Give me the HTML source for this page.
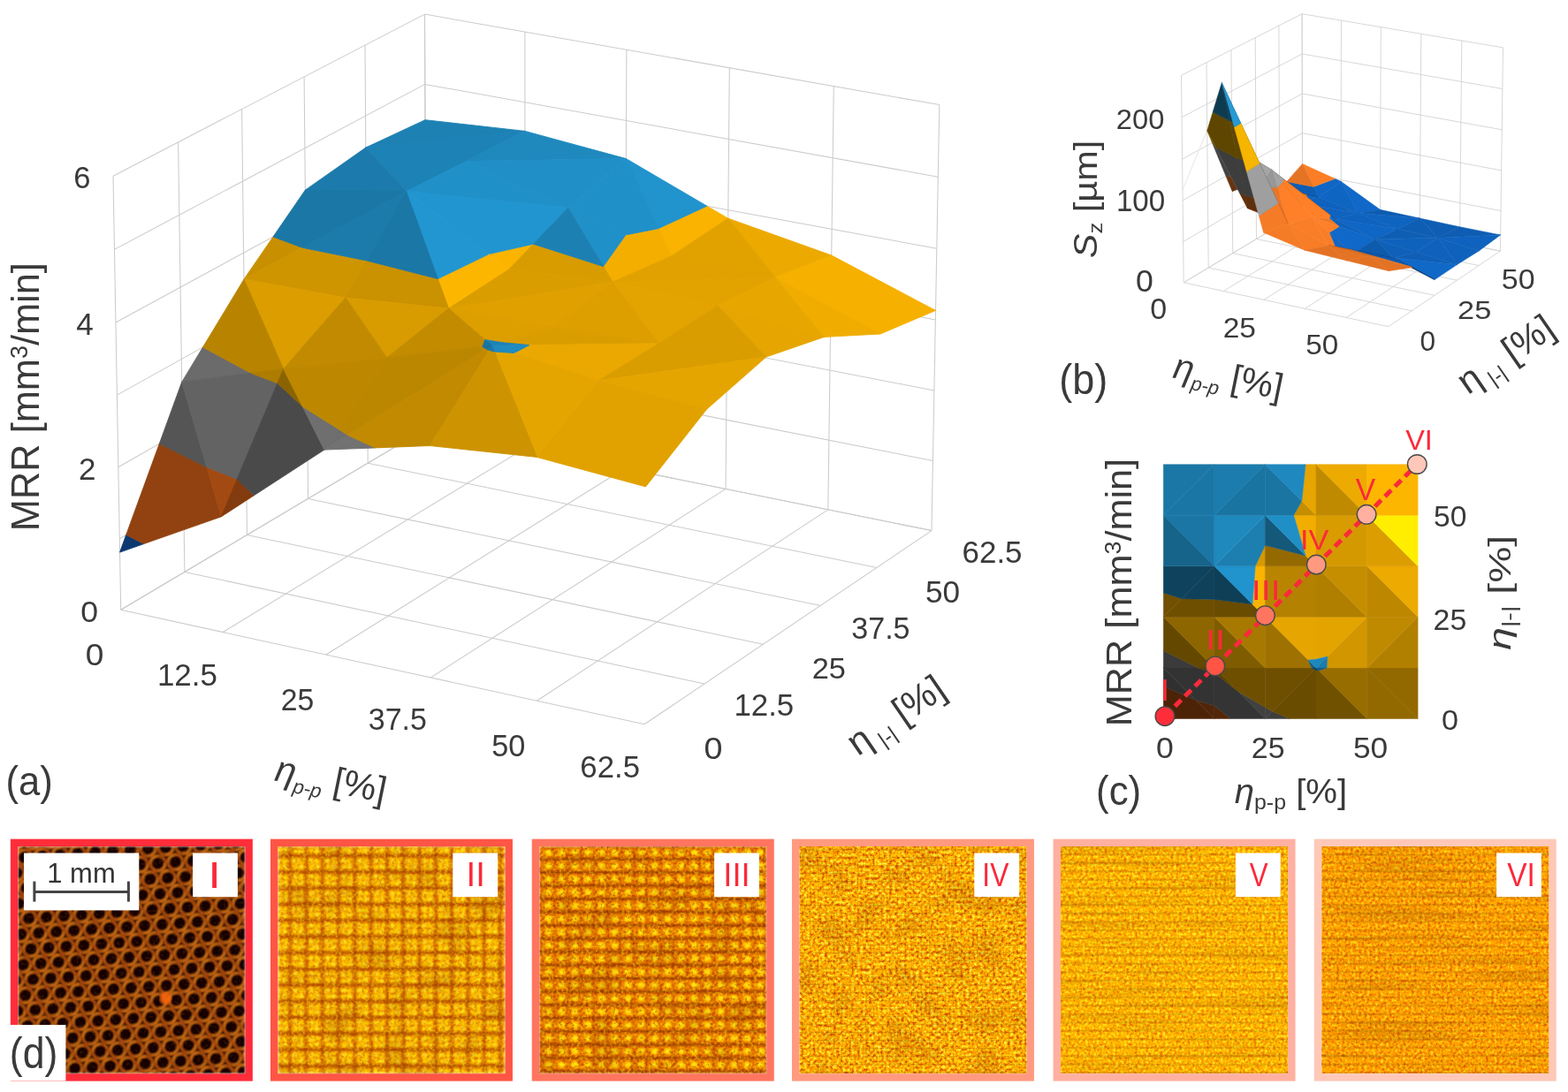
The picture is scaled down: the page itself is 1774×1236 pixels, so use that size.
<!DOCTYPE html><html><head><meta charset="utf-8"><title>Figure</title><style>html,body{margin:0;padding:0;background:#fff;}svg{display:block;}</style></head><body><svg xmlns="http://www.w3.org/2000/svg" width="1774" height="1236" viewBox="0 0 1774 1236"><defs><pattern id="pI" width="20" height="34.64" patternUnits="userSpaceOnUse" patternTransform="rotate(-4)">
<rect width="20" height="34.64" fill="#1c0602"/>
<g fill="#140300" stroke="#cc5a0e" stroke-width="2.3"><circle cx="0" cy="0" r="8.6"/><circle cx="20" cy="0" r="8.6"/><circle cx="10" cy="17.32" r="8.6"/><circle cx="0" cy="34.64" r="8.6"/><circle cx="20" cy="34.64" r="8.6"/></g>
<g fill="none" stroke="#f68a20" stroke-width="1.5" stroke-linecap="round"><path d="M-8.2 -1 A8.2 8.2 0 0 1 1 -8.2"/><path d="M8.2 1 A8.2 8.2 0 0 1 -1 8.2"/><path d="M11.8 -1 A8.2 8.2 0 0 1 21 -8.2"/><path d="M28.2 1 A8.2 8.2 0 0 1 19 8.2"/><path d="M1.8000000000000007 16.32 A8.2 8.2 0 0 1 11 9.120000000000001"/><path d="M18.2 18.32 A8.2 8.2 0 0 1 9 25.52"/><path d="M-8.2 33.64 A8.2 8.2 0 0 1 1 26.44"/><path d="M8.2 35.64 A8.2 8.2 0 0 1 -1 42.84"/><path d="M11.8 33.64 A8.2 8.2 0 0 1 21 26.44"/><path d="M28.2 35.64 A8.2 8.2 0 0 1 19 42.84"/></g>
</pattern><filter id="blur1" x="0" y="0" width="1" height="1"><feGaussianBlur stdDeviation="1.0"/></filter><filter id="blur15" x="0" y="0" width="1" height="1"><feGaussianBlur stdDeviation="1.4"/></filter><pattern id="pII" width="18.3" height="18.3" patternUnits="userSpaceOnUse">
<rect width="18.3" height="18.3" fill="#f08400"/>
<rect y="15.4" width="18.3" height="3.8" fill="#8a3000" opacity="0.75"/>
<rect x="15.7" width="2.7" height="18.3" fill="#903400" opacity="0.55"/>
<g fill="#ffdc00"><ellipse cx="4.5" cy="4.5" rx="3" ry="2.8"/><ellipse cx="11.5" cy="4.8" rx="2.8" ry="2.6"/><ellipse cx="4.8" cy="11.3" rx="2.8" ry="2.6"/><ellipse cx="11.3" cy="11.3" rx="3" ry="2.8"/></g>
<g fill="#fff640"><circle cx="4.5" cy="4.5" r="1.4"/><circle cx="11.3" cy="11.3" r="1.4"/></g>
</pattern><pattern id="pIII" width="15" height="15" patternUnits="userSpaceOnUse">
<rect width="15" height="15" fill="#ee7a00"/>
<rect y="10.8" width="15" height="3.2" fill="#7a2c00" opacity="0.7"/>
<rect x="11" width="2" height="15" fill="#9a4400" opacity="0.3"/>
<ellipse cx="5.5" cy="5" rx="3.9" ry="3.5" fill="#ffd400"/><ellipse cx="5.5" cy="5" rx="2" ry="1.8" fill="#fff020"/>
</pattern><pattern id="pIV" width="9" height="9" patternUnits="userSpaceOnUse">
<rect y="7" width="9" height="1.5" fill="#7a3c00" opacity="0.18"/><rect x="7" width="1.3" height="9" fill="#7a3c00" opacity="0.12"/>
</pattern><pattern id="pV" width="40" height="9.5" patternUnits="userSpaceOnUse">
<rect y="6.8" width="40" height="2.2" fill="#8a4000" opacity="0.22"/>
</pattern><filter id="nI" x="0" y="0" width="1" height="1" color-interpolation-filters="sRGB"><feTurbulence type="fractalNoise" baseFrequency="0.3" numOctaves="2" seed="3"/><feColorMatrix type="matrix" values="1 0 0 0 0 1 0 0 0 0 1 0 0 0 0 1 0 0 0 0"/><feComponentTransfer><feFuncR type="linear" slope="2.6" intercept="-0.8"/><feFuncG type="linear" slope="2.6" intercept="-0.8"/><feFuncB type="linear" slope="2.6" intercept="-0.8"/><feFuncA type="linear" slope="2.6" intercept="-0.8"/></feComponentTransfer><feComponentTransfer><feFuncR type="table" tableValues="0.1 0.5 0.95 1"/><feFuncG type="table" tableValues="0.02 0.15 0.5 0.75"/><feFuncB type="table" tableValues="0 0 0.05 0.2"/><feFuncA type="table" tableValues="0 0 0.15 0.7"/></feComponentTransfer></filter><filter id="nII" x="0" y="0" width="1" height="1" color-interpolation-filters="sRGB"><feTurbulence type="fractalNoise" baseFrequency="0.3" numOctaves="2" seed="5"/><feColorMatrix type="matrix" values="1 0 0 0 0 1 0 0 0 0 1 0 0 0 0 1 0 0 0 0"/><feComponentTransfer><feFuncR type="linear" slope="2.6" intercept="-0.8"/><feFuncG type="linear" slope="2.6" intercept="-0.8"/><feFuncB type="linear" slope="2.6" intercept="-0.8"/><feFuncA type="linear" slope="2.6" intercept="-0.8"/></feComponentTransfer><feComponentTransfer><feFuncR type="table" tableValues="0.66 0.94 1 1"/><feFuncG type="table" tableValues="0.16 0.45 0.85 0.98"/><feFuncB type="table" tableValues="0 0 0 0.1"/><feFuncA type="table" tableValues="0.6 0.15 0.3 0.8"/></feComponentTransfer></filter><filter id="nIII" x="0" y="0" width="1" height="1" color-interpolation-filters="sRGB"><feTurbulence type="fractalNoise" baseFrequency="0.3" numOctaves="2" seed="8"/><feColorMatrix type="matrix" values="1 0 0 0 0 1 0 0 0 0 1 0 0 0 0 1 0 0 0 0"/><feComponentTransfer><feFuncR type="linear" slope="2.6" intercept="-0.8"/><feFuncG type="linear" slope="2.6" intercept="-0.8"/><feFuncB type="linear" slope="2.6" intercept="-0.8"/><feFuncA type="linear" slope="2.6" intercept="-0.8"/></feComponentTransfer><feComponentTransfer><feFuncR type="table" tableValues="0.56 0.92 1 1"/><feFuncG type="table" tableValues="0.1 0.4 0.8 0.95"/><feFuncB type="table" tableValues="0 0 0 0.08"/><feFuncA type="table" tableValues="0.75 0.15 0.3 0.8"/></feComponentTransfer></filter><filter id="nIV" x="0" y="0" width="1" height="1" color-interpolation-filters="sRGB"><feTurbulence type="fractalNoise" baseFrequency="0.3" numOctaves="3" seed="11"/><feColorMatrix type="matrix" values="1 0 0 0 0 1 0 0 0 0 1 0 0 0 0 0 0 0 0 1"/><feComponentTransfer><feFuncR type="linear" slope="2.0" intercept="-0.5"/><feFuncG type="linear" slope="2.0" intercept="-0.5"/><feFuncB type="linear" slope="2.0" intercept="-0.5"/></feComponentTransfer><feComponentTransfer><feFuncR type="table" tableValues="0.8 0.96 1 1 1 1"/><feFuncG type="table" tableValues="0.33 0.52 0.64 0.75 0.85 0.95"/><feFuncB type="table" tableValues="0 0 0 0.02 0.06 0.3"/></feComponentTransfer></filter><filter id="nV" x="0" y="0" width="1" height="1" color-interpolation-filters="sRGB"><feTurbulence type="fractalNoise" baseFrequency="0.32" numOctaves="3" seed="13"/><feColorMatrix type="matrix" values="1 0 0 0 0 1 0 0 0 0 1 0 0 0 0 0 0 0 0 1"/><feComponentTransfer><feFuncR type="linear" slope="1.8" intercept="-0.4"/><feFuncG type="linear" slope="1.8" intercept="-0.4"/><feFuncB type="linear" slope="1.8" intercept="-0.4"/></feComponentTransfer><feComponentTransfer><feFuncR type="table" tableValues="0.88 0.98 1 1 1 1"/><feFuncG type="table" tableValues="0.44 0.58 0.67 0.76 0.85 0.93"/><feFuncB type="table" tableValues="0 0 0 0.01 0.04 0.2"/></feComponentTransfer></filter><filter id="nVI" x="0" y="0" width="1" height="1" color-interpolation-filters="sRGB"><feTurbulence type="fractalNoise" baseFrequency="0.32" numOctaves="3" seed="17"/><feColorMatrix type="matrix" values="1 0 0 0 0 1 0 0 0 0 1 0 0 0 0 0 0 0 0 1"/><feComponentTransfer><feFuncR type="linear" slope="1.8" intercept="-0.4"/><feFuncG type="linear" slope="1.8" intercept="-0.4"/><feFuncB type="linear" slope="1.8" intercept="-0.4"/></feComponentTransfer><feComponentTransfer><feFuncR type="table" tableValues="0.86 0.96 1 1 1 1"/><feFuncG type="table" tableValues="0.38 0.5 0.6 0.68 0.77 0.87"/><feFuncB type="table" tableValues="0 0 0 0.01 0.03 0.15"/></feComponentTransfer></filter><filter id="sStr" x="0" y="0" width="1" height="1" color-interpolation-filters="sRGB"><feTurbulence type="fractalNoise" baseFrequency="0.006 0.12" numOctaves="2" seed="41"/><feColorMatrix type="matrix" values="1 0 0 0 0 1 0 0 0 0 1 0 0 0 0 1 0 0 0 0"/><feComponentTransfer><feFuncR type="linear" slope="2.6" intercept="-0.8"/><feFuncG type="linear" slope="2.6" intercept="-0.8"/><feFuncB type="linear" slope="2.6" intercept="-0.8"/><feFuncA type="linear" slope="2.6" intercept="-0.8"/></feComponentTransfer><feComponentTransfer><feFuncR type="table" tableValues="0.5 0.5"/><feFuncG type="table" tableValues="0.25 0.25"/><feFuncB type="table" tableValues="0 0"/><feFuncA type="table" tableValues="0.8 0.3 0 0 0"/></feComponentTransfer></filter><filter id="sLow" x="0" y="0" width="1" height="1" color-interpolation-filters="sRGB"><feTurbulence type="fractalNoise" baseFrequency="0.03" numOctaves="2" seed="51"/><feColorMatrix type="matrix" values="1 0 0 0 0 1 0 0 0 0 1 0 0 0 0 1 0 0 0 0"/><feComponentTransfer><feFuncR type="linear" slope="2.6" intercept="-0.8"/><feFuncG type="linear" slope="2.6" intercept="-0.8"/><feFuncB type="linear" slope="2.6" intercept="-0.8"/><feFuncA type="linear" slope="2.6" intercept="-0.8"/></feComponentTransfer><feComponentTransfer><feFuncR type="table" tableValues="0.45 0.45"/><feFuncG type="table" tableValues="0.12 0.12"/><feFuncB type="table" tableValues="0 0"/><feFuncA type="table" tableValues="0.6 0.2 0 0"/></feComponentTransfer></filter></defs><g stroke="#cbcbcb" stroke-width="1.05" fill="none"><line x1="136.7" y1="690.3" x2="128.0" y2="199.2"/><line x1="208.9" y1="647.4" x2="201.6" y2="161.0"/><line x1="279.5" y1="605.5" x2="273.6" y2="123.6"/><line x1="348.6" y1="564.4" x2="344.1" y2="87.0"/><line x1="416.2" y1="524.2" x2="413.0" y2="51.2"/><line x1="482.4" y1="484.8" x2="480.5" y2="16.1"/><line x1="136.7" y1="690.3" x2="482.4" y2="484.8"/><line x1="135.3" y1="609.7" x2="482.1" y2="407.9"/><line x1="133.8" y1="528.7" x2="481.8" y2="330.5"/><line x1="132.4" y1="447.1" x2="481.5" y2="252.6"/><line x1="130.9" y1="365.0" x2="481.1" y2="174.3"/><line x1="129.4" y1="282.4" x2="480.8" y2="95.4"/><line x1="128.0" y1="199.2" x2="480.5" y2="16.1"/><line x1="482.4" y1="484.8" x2="480.5" y2="16.1"/><line x1="593.9" y1="507.4" x2="593.9" y2="36.1"/><line x1="706.7" y1="530.3" x2="708.9" y2="56.3"/><line x1="821.0" y1="553.4" x2="825.3" y2="76.8"/><line x1="936.8" y1="576.9" x2="943.3" y2="97.6"/><line x1="1054.0" y1="600.6" x2="1062.8" y2="118.6"/><line x1="482.4" y1="484.8" x2="1054.0" y2="600.6"/><line x1="482.1" y1="407.9" x2="1055.4" y2="521.5"/><line x1="481.8" y1="330.5" x2="1056.9" y2="442.0"/><line x1="481.5" y1="252.6" x2="1058.4" y2="361.9"/><line x1="481.1" y1="174.3" x2="1059.8" y2="281.3"/><line x1="480.8" y1="95.4" x2="1061.3" y2="200.2"/><line x1="480.5" y1="16.1" x2="1062.8" y2="118.6"/><line x1="136.7" y1="690.3" x2="482.4" y2="484.8"/><line x1="252.0" y1="715.5" x2="593.9" y2="507.4"/><line x1="368.9" y1="741.0" x2="706.7" y2="530.3"/><line x1="487.3" y1="766.9" x2="821.0" y2="553.4"/><line x1="607.4" y1="793.2" x2="936.8" y2="576.9"/><line x1="729.1" y1="819.8" x2="1054.0" y2="600.6"/><line x1="136.7" y1="690.3" x2="729.1" y2="819.8"/><line x1="208.9" y1="647.4" x2="797.0" y2="774.0"/><line x1="279.5" y1="605.5" x2="863.4" y2="729.2"/><line x1="348.6" y1="564.4" x2="928.3" y2="685.4"/><line x1="416.2" y1="524.2" x2="991.9" y2="642.5"/><line x1="482.4" y1="484.8" x2="1054.0" y2="600.6"/></g><g stroke-linejoin="round"><polygon points="413.8,167.1 593.9,148.4 481.0,135.7" fill="#1d81b3" stroke="#1d81b3" stroke-width="0.9"/><polygon points="413.8,167.1 527.5,182.6 593.9,148.4" fill="#1d82b5" stroke="#1d82b5" stroke-width="0.9"/><polygon points="527.5,182.6 708.3,179.6 593.9,148.4" fill="#1f89be" stroke="#1f89be" stroke-width="0.9"/><polygon points="527.5,182.6 642.7,235.2 708.3,179.6" fill="#208fc8" stroke="#208fc8" stroke-width="0.9"/><polygon points="459.7,216.6 527.5,182.6 413.8,167.1" fill="#1d82b5" stroke="#1d82b5" stroke-width="0.9"/><polygon points="759.1,290.1 823.8,247.2 799.8,233.2 744.7,258.7" fill="#f9b300" stroke="#f9b300" stroke-width="0.9"/><polygon points="799.8,233.2 708.3,179.6 744.7,258.7" fill="#2193cd" stroke="#2193cd" stroke-width="0.9"/><polygon points="345.3,215.2 459.7,216.6 413.8,167.1" fill="#1c7bac" stroke="#1c7bac" stroke-width="0.9"/><polygon points="707.9,265.9 759.1,290.1 744.7,258.7" fill="#f3ae00" stroke="#f3ae00" stroke-width="0.9"/><polygon points="642.7,235.2 707.9,265.9 744.7,258.7 708.3,179.6" fill="#2090c8" stroke="#2090c8" stroke-width="0.9"/><polygon points="459.7,216.6 642.7,235.2 527.5,182.6" fill="#2090c8" stroke="#2090c8" stroke-width="0.9"/><polygon points="877.1,314.0 940.7,289.0 823.8,247.2" fill="#eca900" stroke="#eca900" stroke-width="0.9"/><polygon points="276.0,316.1 342.0,280.3 309.0,268.0" fill="#c89000" stroke="#c89000" stroke-width="0.9"/><polygon points="342.0,280.3 459.7,216.6 345.3,215.2 309.0,268.0" fill="#1b77a5" stroke="#1b77a5" stroke-width="0.9"/><polygon points="759.1,290.1 877.1,314.0 823.8,247.2" fill="#e1a200" stroke="#e1a200" stroke-width="0.9"/><polygon points="553.1,287.6 575.8,304.9 603.4,276.2" fill="#fbb400" stroke="#fbb400" stroke-width="0.9"/><polygon points="459.7,216.6 553.1,287.6 603.4,276.2 642.7,235.2" fill="#2195cf" stroke="#2195cf" stroke-width="0.9"/><polygon points="877.1,314.0 1058.5,351.4 940.7,289.0" fill="#f5b000" stroke="#f5b000" stroke-width="0.9"/><polygon points="693.1,319.2 759.1,290.1 707.9,265.9 682.6,301.6" fill="#f3ae00" stroke="#f3ae00" stroke-width="0.9"/><polygon points="707.9,265.9 642.7,235.2 682.6,301.6" fill="#2090c8" stroke="#2090c8" stroke-width="0.9"/><polygon points="276.0,316.1 391.0,336.9 414.9,295.0 342.0,280.3" fill="#cf9500" stroke="#cf9500" stroke-width="0.9"/><polygon points="414.9,295.0 459.7,216.6 342.0,280.3" fill="#1c7bab" stroke="#1c7bab" stroke-width="0.9"/><polygon points="575.8,304.9 693.1,319.2 682.6,301.6 603.4,276.2" fill="#d89b00" stroke="#d89b00" stroke-width="0.9"/><polygon points="682.6,301.6 642.7,235.2 603.4,276.2" fill="#1d80b2" stroke="#1d80b2" stroke-width="0.9"/><polygon points="693.1,319.2 877.1,314.0 759.1,290.1" fill="#e1a100" stroke="#e1a100" stroke-width="0.9"/><polygon points="877.1,314.0 996.0,378.0 1058.5,351.4" fill="#f6b000" stroke="#f6b000" stroke-width="0.9"/><polygon points="507.5,349.1 575.8,304.9 553.1,287.6 495.4,315.6" fill="#fdb600" stroke="#fdb600" stroke-width="0.9"/><polygon points="553.1,287.6 459.7,216.6 495.4,315.6" fill="#2296d1" stroke="#2296d1" stroke-width="0.9"/><polygon points="391.0,336.9 507.5,349.1 495.4,315.6 414.9,295.0" fill="#ca9100" stroke="#ca9100" stroke-width="0.9"/><polygon points="495.4,315.6 459.7,216.6 414.9,295.0" fill="#1b77a6" stroke="#1b77a6" stroke-width="0.9"/><polygon points="320.7,417.5 391.0,336.9 276.0,316.1" fill="#db9d00" stroke="#db9d00" stroke-width="0.9"/><polygon points="205.7,432.4 283.8,422.3 229.5,393.0" fill="#6b6b6b" stroke="#6b6b6b" stroke-width="0.9"/><polygon points="283.8,422.3 320.7,417.5 276.0,316.1 229.5,393.0" fill="#b88400" stroke="#b88400" stroke-width="0.9"/><polygon points="507.5,349.1 693.1,319.2 575.8,304.9" fill="#da9d00" stroke="#da9d00" stroke-width="0.9"/><polygon points="693.1,319.2 812.0,346.0 877.1,314.0" fill="#e2a300" stroke="#e2a300" stroke-width="0.9"/><polygon points="932.4,381.4 996.0,378.0 877.1,314.0" fill="#f0ad00" stroke="#f0ad00" stroke-width="0.9"/><polygon points="135.6,625.1 162.6,615.6 142.7,605.4" fill="#0b3970" stroke="#0b3970" stroke-width="0.9"/><polygon points="162.6,615.6 250.3,584.8 233.9,528.8 180.3,502.2 142.7,605.4" fill="#914210" stroke="#914210" stroke-width="0.9"/><polygon points="233.9,528.8 205.7,432.4 180.3,502.2" fill="#555555" stroke="#555555" stroke-width="0.9"/><polygon points="812.0,346.0 932.4,381.4 877.1,314.0" fill="#e8a600" stroke="#e8a600" stroke-width="0.9"/><polygon points="507.5,349.1 625.6,370.4 693.1,319.2" fill="#dfa000" stroke="#dfa000" stroke-width="0.9"/><polygon points="437.7,404.9 507.5,349.1 391.0,336.9" fill="#d89b00" stroke="#d89b00" stroke-width="0.9"/><polygon points="250.3,584.8 268.2,542.3 233.9,528.8" fill="#a34a12" stroke="#a34a12" stroke-width="0.9"/><polygon points="268.2,542.3 313.9,433.7 283.8,422.3 205.7,432.4 233.9,528.8" fill="#636363" stroke="#636363" stroke-width="0.9"/><polygon points="313.9,433.7 320.7,417.5 283.8,422.3" fill="#ad7c00" stroke="#ad7c00" stroke-width="0.9"/><polygon points="320.7,417.5 437.7,404.9 391.0,336.9" fill="#c18a00" stroke="#c18a00" stroke-width="0.9"/><polygon points="745.4,388.7 812.0,346.0 693.1,319.2" fill="#e3a300" stroke="#e3a300" stroke-width="0.9"/><polygon points="625.6,370.4 745.4,388.7 693.1,319.2" fill="#dd9e00" stroke="#dd9e00" stroke-width="0.9"/><polygon points="568.2,387.7 625.6,370.4 507.5,349.1 548.9,384.6" fill="#dd9e00" stroke="#dd9e00" stroke-width="0.9"/><polygon points="556.6,391.2 568.2,387.7 548.9,384.6" fill="#1d83b6" stroke="#1d83b6" stroke-width="0.9"/><polygon points="437.7,404.9 545.9,392.4 548.9,384.6 507.5,349.1" fill="#c28b00" stroke="#c28b00" stroke-width="0.9"/><polygon points="545.9,392.4 556.6,391.2 548.9,384.6" fill="#1a73a0" stroke="#1a73a0" stroke-width="0.9"/><polygon points="250.3,584.8 287.3,560.8 268.2,542.3" fill="#823b0e" stroke="#823b0e" stroke-width="0.9"/><polygon points="287.3,560.8 366.9,509.1 342.2,460.1 313.9,433.7 268.2,542.3" fill="#4a4a4a" stroke="#4a4a4a" stroke-width="0.9"/><polygon points="342.2,460.1 320.7,417.5 313.9,433.7" fill="#8b6300" stroke="#8b6300" stroke-width="0.9"/><polygon points="866.9,404.0 932.4,381.4 812.0,346.0" fill="#e6a500" stroke="#e6a500" stroke-width="0.9"/><polygon points="366.9,509.1 382.8,485.6 342.2,460.1" fill="#6f6f6f" stroke="#6f6f6f" stroke-width="0.9"/><polygon points="382.8,485.6 437.7,404.9 320.7,417.5 342.2,460.1" fill="#bd8800" stroke="#bd8800" stroke-width="0.9"/><polygon points="745.4,388.7 866.9,404.0 812.0,346.0" fill="#da9d00" stroke="#da9d00" stroke-width="0.9"/><polygon points="598.7,390.6 745.4,388.7 625.6,370.4 568.2,387.7" fill="#da9d00" stroke="#da9d00" stroke-width="0.9"/><polygon points="556.6,391.2 598.7,390.6 568.2,387.7" fill="#1d81b4" stroke="#1d81b4" stroke-width="0.9"/><polygon points="366.9,509.1 393.5,492.5 382.8,485.6" fill="#6e6e6e" stroke="#6e6e6e" stroke-width="0.9"/><polygon points="393.5,492.5 550.3,395.1 545.9,392.4 437.7,404.9 382.8,485.6" fill="#bc8700" stroke="#bc8700" stroke-width="0.9"/><polygon points="550.3,395.1 556.6,391.2 545.9,392.4" fill="#19709b" stroke="#19709b" stroke-width="0.9"/><polygon points="581.9,399.5 677.3,430.8 745.4,388.7 598.7,390.6" fill="#eaa800" stroke="#eaa800" stroke-width="0.9"/><polygon points="556.6,391.2 581.9,399.5 598.7,390.6" fill="#1f8bc1" stroke="#1f8bc1" stroke-width="0.9"/><polygon points="677.3,430.8 866.9,404.0 745.4,388.7" fill="#da9d00" stroke="#da9d00" stroke-width="0.9"/><polygon points="366.9,509.1 424.6,506.9 393.5,492.5" fill="#727272" stroke="#727272" stroke-width="0.9"/><polygon points="424.6,506.9 486.2,504.5 553.3,396.4 550.3,395.1 393.5,492.5" fill="#c18a00" stroke="#c18a00" stroke-width="0.9"/><polygon points="553.3,396.4 556.6,391.2 550.3,395.1" fill="#1a729f" stroke="#1a729f" stroke-width="0.9"/><polygon points="677.3,430.8 799.5,463.3 866.9,404.0" fill="#e5a500" stroke="#e5a500" stroke-width="0.9"/><polygon points="607.5,517.4 677.3,430.8 581.9,399.5 559.4,398.1" fill="#e5a500" stroke="#e5a500" stroke-width="0.9"/><polygon points="581.9,399.5 556.6,391.2 559.4,398.1" fill="#1f88bd" stroke="#1f88bd" stroke-width="0.9"/><polygon points="486.2,504.5 607.5,517.4 559.4,398.1 553.3,396.4" fill="#cd9300" stroke="#cd9300" stroke-width="0.9"/><polygon points="559.4,398.1 556.6,391.2 553.3,396.4" fill="#1b79a9" stroke="#1b79a9" stroke-width="0.9"/><polygon points="730.5,550.9 799.5,463.3 677.3,430.8" fill="#e1a200" stroke="#e1a200" stroke-width="0.9"/><polygon points="607.5,517.4 730.5,550.9 677.3,430.8" fill="#e1a200" stroke="#e1a200" stroke-width="0.9"/></g><g stroke="#d2d2d2" stroke-width="0.9" fill="none"><line x1="1339.2" y1="319.8" x2="1336.5" y2="85.3"/><line x1="1367.2" y1="303.0" x2="1365.0" y2="70.8"/><line x1="1394.7" y1="286.6" x2="1392.9" y2="56.5"/><line x1="1421.5" y1="270.5" x2="1420.2" y2="42.6"/><line x1="1447.8" y1="254.8" x2="1446.9" y2="29.0"/><line x1="1473.6" y1="239.3" x2="1473.1" y2="15.7"/><line x1="1339.2" y1="319.8" x2="1473.6" y2="239.3"/><line x1="1338.7" y1="273.5" x2="1473.5" y2="195.2"/><line x1="1338.1" y1="226.9" x2="1473.4" y2="150.7"/><line x1="1337.6" y1="180.0" x2="1473.3" y2="106.0"/><line x1="1337.0" y1="132.8" x2="1473.2" y2="61.0"/><line x1="1336.5" y1="85.3" x2="1473.1" y2="15.7"/><line x1="1473.6" y1="239.3" x2="1473.1" y2="15.7"/><line x1="1517.2" y1="248.1" x2="1517.4" y2="23.1"/><line x1="1561.4" y1="256.9" x2="1562.3" y2="30.6"/><line x1="1606.2" y1="265.8" x2="1607.8" y2="38.3"/><line x1="1651.5" y1="274.9" x2="1653.8" y2="46.0"/><line x1="1697.4" y1="284.1" x2="1700.5" y2="53.9"/><line x1="1473.6" y1="239.3" x2="1697.4" y2="284.1"/><line x1="1473.5" y1="195.2" x2="1698.0" y2="238.6"/><line x1="1473.4" y1="150.7" x2="1698.6" y2="192.9"/><line x1="1473.3" y1="106.0" x2="1699.2" y2="146.8"/><line x1="1473.2" y1="61.0" x2="1699.8" y2="100.5"/><line x1="1473.1" y1="15.7" x2="1700.5" y2="53.9"/><line x1="1339.2" y1="319.8" x2="1473.6" y2="239.3"/><line x1="1384.3" y1="329.5" x2="1517.2" y2="248.1"/><line x1="1430.0" y1="339.3" x2="1561.4" y2="256.9"/><line x1="1476.4" y1="349.3" x2="1606.2" y2="265.8"/><line x1="1523.3" y1="359.4" x2="1651.5" y2="274.9"/><line x1="1570.8" y1="369.7" x2="1697.4" y2="284.1"/><line x1="1339.2" y1="319.8" x2="1570.8" y2="369.7"/><line x1="1367.2" y1="303.0" x2="1597.2" y2="351.8"/><line x1="1394.7" y1="286.6" x2="1623.1" y2="334.3"/><line x1="1421.5" y1="270.5" x2="1648.4" y2="317.2"/><line x1="1447.8" y1="254.8" x2="1673.1" y2="300.5"/><line x1="1473.6" y1="239.3" x2="1697.4" y2="284.1"/></g><g stroke-linejoin="round"><line x1="1338.0" y1="214.7" x2="1365.7" y2="147.8" stroke="#e6e6e6" stroke-width="1"/><polygon points="1491.7,223.3 1517.3,205.4 1510.5,202.3 1486.0,211.4" fill="#1066c5" stroke="#1066c5" stroke-width="0.5"/><polygon points="1510.5,202.3 1473.5,185.4 1486.0,211.4" fill="#fb7e27" stroke="#fb7e27" stroke-width="0.5"/><polygon points="1447.7,214.7 1491.7,223.3 1486.0,211.4 1455.8,205.5" fill="#0e5db3" stroke="#0e5db3" stroke-width="0.5"/><polygon points="1486.0,211.4 1473.5,185.4 1455.8,205.5" fill="#e47324" stroke="#e47324" stroke-width="0.5"/><polygon points="1536.3,241.2 1561.5,237.3 1517.3,205.4" fill="#1068c8" stroke="#1068c8" stroke-width="0.5"/><polygon points="1491.7,223.3 1536.3,241.2 1517.3,205.4" fill="#0f65c2" stroke="#0f65c2" stroke-width="0.5"/><polygon points="1477.7,220.2 1491.7,223.3 1447.7,214.7 1442.4,213.2" fill="#06264a" stroke="#06264a" stroke-width="0.5"/><polygon points="1421.1,207.4 1477.7,220.2 1442.4,213.2" fill="#5e2f0f" stroke="#5e2f0f" stroke-width="0.5"/><polygon points="1536.3,241.2 1606.3,247.0 1561.5,237.3" fill="#0e5cb1" stroke="#0e5cb1" stroke-width="0.5"/><polygon points="1479.9,225.9 1491.7,223.3 1477.7,220.2" fill="#0f65c1" stroke="#0f65c1" stroke-width="0.5"/><polygon points="1421.1,207.4 1465.6,228.9 1479.9,225.9 1477.7,220.2" fill="#f67c27" stroke="#f67c27" stroke-width="0.5"/><polygon points="1485.9,232.4 1536.3,241.2 1491.7,223.3 1479.9,225.9" fill="#0f62bd" stroke="#0f62bd" stroke-width="0.5"/><polygon points="1465.6,228.9 1485.9,232.4 1479.9,225.9" fill="#f17926" stroke="#f17926" stroke-width="0.5"/><polygon points="1536.3,241.2 1581.4,259.2 1606.3,247.0" fill="#0f64c0" stroke="#0f64c0" stroke-width="0.5"/><polygon points="1627.1,269.2 1651.7,256.8 1606.3,247.0" fill="#0e5eb4" stroke="#0e5eb4" stroke-width="0.5"/><polygon points="1581.4,259.2 1627.1,269.2 1606.3,247.0" fill="#0e5eb4" stroke="#0e5eb4" stroke-width="0.5"/><polygon points="1490.0,239.2 1510.5,247.9 1536.3,241.2 1485.9,232.4" fill="#0f63bf" stroke="#0f63bf" stroke-width="0.5"/><polygon points="1465.6,228.9 1490.0,239.2 1485.9,232.4" fill="#f37a26" stroke="#f37a26" stroke-width="0.5"/><polygon points="1510.5,247.9 1581.4,259.2 1536.3,241.2" fill="#0f63be" stroke="#0f63be" stroke-width="0.5"/><polygon points="1627.1,269.2 1697.6,265.9 1651.7,256.8" fill="#0e5db3" stroke="#0e5db3" stroke-width="0.5"/><polygon points="1444.9,200.7 1465.6,228.9 1421.1,207.4 1433.3,196.9" fill="#5e2f0f" stroke="#5e2f0f" stroke-width="0.5"/><polygon points="1438.7,192.2 1444.9,200.7 1433.3,196.9" fill="#3d3d3d" stroke="#3d3d3d" stroke-width="0.5"/><polygon points="1394.1,216.5 1422.5,201.1 1433.3,196.9 1421.1,207.4" fill="#5e2f0f" stroke="#5e2f0f" stroke-width="0.5"/><polygon points="1422.5,201.1 1438.7,192.2 1433.3,196.9" fill="#3d3d3d" stroke="#3d3d3d" stroke-width="0.5"/><polygon points="1510.5,247.9 1556.0,270.7 1581.4,259.2" fill="#1066c5" stroke="#1066c5" stroke-width="0.5"/><polygon points="1556.0,270.7 1627.1,269.2 1581.4,259.2" fill="#0e5eb4" stroke="#0e5eb4" stroke-width="0.5"/><polygon points="1505.3,243.8 1510.5,247.9 1490.0,239.2" fill="#06264a" stroke="#06264a" stroke-width="0.5"/><polygon points="1452.5,202.9 1505.3,243.8 1490.0,239.2 1465.6,228.9 1444.9,200.7" fill="#5e2f0f" stroke="#5e2f0f" stroke-width="0.5"/><polygon points="1438.7,192.2 1452.5,202.9 1444.9,200.7" fill="#3d3d3d" stroke="#3d3d3d" stroke-width="0.5"/><polygon points="1627.1,269.2 1673.3,284.0 1697.6,265.9" fill="#0f62bd" stroke="#0f62bd" stroke-width="0.5"/><polygon points="1515.1,256.4 1556.0,270.7 1510.5,247.9 1504.0,247.3" fill="#0f62bc" stroke="#0f62bc" stroke-width="0.5"/><polygon points="1484.2,245.5 1515.1,256.4 1504.0,247.3" fill="#f07926" stroke="#f07926" stroke-width="0.5"/><polygon points="1556.0,270.7 1602.0,285.6 1627.1,269.2" fill="#0f62bc" stroke="#0f62bc" stroke-width="0.5"/><polygon points="1504.0,247.3 1510.5,247.9 1505.3,243.8" fill="#1068c8" stroke="#1068c8" stroke-width="0.5"/><polygon points="1451.0,206.6 1484.2,245.5 1504.0,247.3 1505.3,243.8 1452.5,202.9" fill="#ff8028" stroke="#ff8028" stroke-width="0.5"/><polygon points="1438.7,192.2 1451.0,206.6 1452.5,202.9" fill="#a5a5a5" stroke="#a5a5a5" stroke-width="0.5"/><polygon points="1422.5,201.1 1394.1,216.5 1387.0,199.4" fill="#673410" stroke="#673410" stroke-width="0.5"/><polygon points="1389.7,162.4 1438.7,192.2 1422.5,201.1 1387.0,199.4 1371.4,161.5" fill="#434343" stroke="#434343" stroke-width="0.5"/><polygon points="1365.7,147.8 1389.7,162.4 1371.4,161.5" fill="#674c00" stroke="#674c00" stroke-width="0.5"/><polygon points="1648.5,299.6 1673.3,284.0 1627.1,269.2" fill="#0f62bc" stroke="#0f62bc" stroke-width="0.5"/><polygon points="1602.0,285.6 1648.5,299.6 1627.1,269.2" fill="#0f61bb" stroke="#0f61bb" stroke-width="0.5"/><polygon points="1503.8,263.3 1530.0,287.2 1556.0,270.7 1515.1,256.4" fill="#1068c8" stroke="#1068c8" stroke-width="0.5"/><polygon points="1484.2,245.5 1503.8,263.3 1515.1,256.4" fill="#ff8028" stroke="#ff8028" stroke-width="0.5"/><polygon points="1576.4,292.0 1602.0,285.6 1556.0,270.7" fill="#0f60b8" stroke="#0f60b8" stroke-width="0.5"/><polygon points="1402.4,218.2 1411.5,235.8 1427.0,211.0" fill="#ff8028" stroke="#ff8028" stroke-width="0.5"/><polygon points="1375.4,166.4 1402.4,218.2 1427.0,211.0 1438.7,192.2 1389.7,162.4" fill="#a5a5a5" stroke="#a5a5a5" stroke-width="0.5"/><polygon points="1365.7,147.8 1375.4,166.4 1389.7,162.4" fill="#ffbc00" stroke="#ffbc00" stroke-width="0.5"/><polygon points="1457.2,253.4 1484.2,245.5 1451.0,206.6 1444.8,212.4" fill="#ff8028" stroke="#ff8028" stroke-width="0.5"/><polygon points="1451.0,206.6 1438.7,192.2 1444.8,212.4" fill="#a5a5a5" stroke="#a5a5a5" stroke-width="0.5"/><polygon points="1530.0,287.2 1576.4,292.0 1556.0,270.7" fill="#0e5aac" stroke="#0e5aac" stroke-width="0.5"/><polygon points="1411.5,235.8 1457.2,253.4 1444.8,212.4 1427.0,211.0" fill="#eb7625" stroke="#eb7625" stroke-width="0.5"/><polygon points="1444.8,212.4 1438.7,192.2 1427.0,211.0" fill="#989898" stroke="#989898" stroke-width="0.5"/><polygon points="1576.4,292.0 1648.5,299.6 1602.0,285.6" fill="#0f5fb7" stroke="#0f5fb7" stroke-width="0.5"/><polygon points="1511.1,280.5 1530.0,287.2 1503.8,263.3" fill="#1065c3" stroke="#1065c3" stroke-width="0.5"/><polygon points="1503.4,277.7 1511.1,280.5 1503.8,263.3 1484.2,245.5" fill="#f97d27" stroke="#f97d27" stroke-width="0.5"/><polygon points="1457.2,253.4 1503.4,277.7 1484.2,245.5" fill="#fa7e27" stroke="#fa7e27" stroke-width="0.5"/><polygon points="1528.9,282.7 1576.4,292.0 1530.0,287.2 1511.1,280.5" fill="#06264a" stroke="#06264a" stroke-width="0.5"/><polygon points="1503.4,277.7 1528.9,282.7 1511.1,280.5" fill="#5e2f0f" stroke="#5e2f0f" stroke-width="0.5"/><polygon points="1576.4,292.0 1623.2,316.6 1648.5,299.6" fill="#1068c7" stroke="#1068c7" stroke-width="0.5"/><polygon points="1408.6,221.6 1411.5,235.8 1402.4,218.2" fill="#5e2f0f" stroke="#5e2f0f" stroke-width="0.5"/><polygon points="1400.0,179.5 1408.6,221.6 1402.4,218.2 1375.4,166.4" fill="#3d3d3d" stroke="#3d3d3d" stroke-width="0.5"/><polygon points="1391.2,136.8 1400.0,179.5 1375.4,166.4 1365.7,147.8 1372.1,126.9" fill="#5e4600" stroke="#5e4600" stroke-width="0.5"/><polygon points="1382.3,93.6 1391.2,136.8 1372.1,126.9" fill="#0f3b51" stroke="#0f3b51" stroke-width="0.5"/><polygon points="1446.3,230.1 1457.2,253.4 1411.5,235.8 1408.6,221.6" fill="#5e2f0f" stroke="#5e2f0f" stroke-width="0.5"/><polygon points="1425.2,185.0 1446.3,230.1 1408.6,221.6 1400.0,179.5" fill="#3d3d3d" stroke="#3d3d3d" stroke-width="0.5"/><polygon points="1403.8,139.5 1425.2,185.0 1400.0,179.5 1391.2,136.8" fill="#5e4600" stroke="#5e4600" stroke-width="0.5"/><polygon points="1382.3,93.6 1403.8,139.5 1391.2,136.8" fill="#0f3b51" stroke="#0f3b51" stroke-width="0.5"/><polygon points="1556.8,290.6 1576.4,292.0 1528.9,282.7" fill="#0e5baf" stroke="#0e5baf" stroke-width="0.5"/><polygon points="1503.4,277.7 1550.2,290.1 1556.8,290.6 1528.9,282.7" fill="#df7023" stroke="#df7023" stroke-width="0.5"/><polygon points="1476.2,283.3 1503.4,277.7 1457.2,253.4" fill="#f87d27" stroke="#f87d27" stroke-width="0.5"/><polygon points="1599.1,303.5 1623.2,316.6 1576.4,292.0 1595.0,301.4" fill="#06264a" stroke="#06264a" stroke-width="0.5"/><polygon points="1597.6,302.7 1599.1,303.5 1595.0,301.4" fill="#5e2f0f" stroke="#5e2f0f" stroke-width="0.5"/><polygon points="1424.3,244.3 1429.6,263.3 1457.2,253.4 1446.3,230.1" fill="#f67b27" stroke="#f67b27" stroke-width="0.5"/><polygon points="1410.4,194.2 1424.3,244.3 1446.3,230.1 1425.2,185.0" fill="#9f9f9f" stroke="#9f9f9f" stroke-width="0.5"/><polygon points="1396.4,144.0 1410.4,194.2 1425.2,185.0 1403.8,139.5" fill="#f6b500" stroke="#f6b500" stroke-width="0.5"/><polygon points="1382.3,93.6 1396.4,144.0 1403.8,139.5" fill="#279ad4" stroke="#279ad4" stroke-width="0.5"/><polygon points="1429.6,263.3 1476.2,283.3 1457.2,253.4" fill="#f57b26" stroke="#f57b26" stroke-width="0.5"/><polygon points="1595.0,301.4 1576.4,292.0 1556.8,290.6" fill="#0e5baf" stroke="#0e5baf" stroke-width="0.5"/><polygon points="1550.2,290.1 1597.6,302.7 1595.0,301.4 1556.8,290.6" fill="#df7023" stroke="#df7023" stroke-width="0.5"/><polygon points="1523.4,294.9 1550.2,290.1 1503.4,277.7" fill="#e57324" stroke="#e57324" stroke-width="0.5"/><polygon points="1476.2,283.3 1523.4,294.9 1503.4,277.7" fill="#e47224" stroke="#e47224" stroke-width="0.5"/><polygon points="1571.1,306.7 1597.6,302.7 1550.2,290.1" fill="#e47224" stroke="#e47224" stroke-width="0.5"/><polygon points="1523.4,294.9 1571.1,306.7 1550.2,290.1" fill="#e37224" stroke="#e37224" stroke-width="0.5"/></g><g stroke-linejoin="round"><polygon points="1316.3,813.4 1330.0,813.4 1316.3,807.6" fill="#061f3c" stroke="#061f3c" stroke-width="0.5"/><polygon points="1330.0,813.4 1373.9,813.4 1352.9,792.4 1316.3,776.8 1316.3,807.6" fill="#4d2308" stroke="#4d2308" stroke-width="0.5"/><polygon points="1352.9,792.4 1316.3,755.9 1316.3,776.8" fill="#303030" stroke="#303030" stroke-width="0.5"/><polygon points="1373.9,813.4 1373.9,798.8 1352.9,792.4" fill="#512509" stroke="#512509" stroke-width="0.5"/><polygon points="1373.9,798.8 1373.9,761.5 1355.5,755.9 1316.3,755.9 1352.9,792.4" fill="#333333" stroke="#333333" stroke-width="0.5"/><polygon points="1373.9,761.5 1373.9,755.9 1355.5,755.9" fill="#563e00" stroke="#563e00" stroke-width="0.5"/><polygon points="1316.3,755.9 1355.5,755.9 1316.3,736.5" fill="#3b3b3b" stroke="#3b3b3b" stroke-width="0.5"/><polygon points="1355.5,755.9 1373.9,755.9 1316.3,698.3 1316.3,736.5" fill="#644800" stroke="#644800" stroke-width="0.5"/><polygon points="1373.9,755.9 1373.9,698.3 1316.3,698.3" fill="#8e6600" stroke="#8e6600" stroke-width="0.5"/><polygon points="1316.3,698.3 1373.9,698.3 1373.9,678.4 1337.0,677.7" fill="#6e4f00" stroke="#6e4f00" stroke-width="0.5"/><polygon points="1373.9,678.4 1373.9,640.8 1337.0,677.7" fill="#0f415b" stroke="#0f415b" stroke-width="0.5"/><polygon points="1316.3,698.3 1337.0,677.7 1316.3,671.0" fill="#715100" stroke="#715100" stroke-width="0.5"/><polygon points="1337.0,677.7 1373.9,640.8 1316.3,640.8 1316.3,671.0" fill="#0f435d" stroke="#0f435d" stroke-width="0.5"/><polygon points="1316.3,640.8 1373.9,640.8 1316.3,583.2" fill="#17648b" stroke="#17648b" stroke-width="0.5"/><polygon points="1373.9,640.8 1373.9,583.2 1316.3,583.2" fill="#1b76a5" stroke="#1b76a5" stroke-width="0.5"/><polygon points="1316.3,583.2 1373.9,583.2 1373.9,525.7" fill="#1a76a4" stroke="#1a76a4" stroke-width="0.5"/><polygon points="1316.3,583.2 1373.9,525.7 1316.3,525.7" fill="#1b77a6" stroke="#1b77a6" stroke-width="0.5"/><polygon points="1373.9,813.4 1392.3,813.4 1373.9,798.8" fill="#542609" stroke="#542609" stroke-width="0.5"/><polygon points="1392.3,813.4 1431.4,813.4 1400.8,782.8 1373.9,761.5 1373.9,798.8" fill="#343434" stroke="#343434" stroke-width="0.5"/><polygon points="1400.8,782.8 1373.9,755.9 1373.9,761.5" fill="#594000" stroke="#594000" stroke-width="0.5"/><polygon points="1431.4,813.4 1431.4,800.5 1400.8,782.8" fill="#414141" stroke="#414141" stroke-width="0.5"/><polygon points="1431.4,800.5 1431.4,755.9 1373.9,755.9 1400.8,782.8" fill="#6e4f00" stroke="#6e4f00" stroke-width="0.5"/><polygon points="1373.9,755.9 1431.4,755.9 1373.9,698.3" fill="#805c00" stroke="#805c00" stroke-width="0.5"/><polygon points="1431.4,755.9 1431.4,698.3 1373.9,698.3" fill="#a87900" stroke="#a87900" stroke-width="0.5"/><polygon points="1373.9,698.3 1431.4,698.3 1417.0,683.9 1373.9,678.4" fill="#6a4c00" stroke="#6a4c00" stroke-width="0.5"/><polygon points="1417.0,683.9 1373.9,640.8 1373.9,678.4" fill="#0e3f57" stroke="#0e3f57" stroke-width="0.5"/><polygon points="1431.4,698.3 1431.4,640.8 1420.2,640.8 1417.0,683.9" fill="#f9b300" stroke="#f9b300" stroke-width="0.5"/><polygon points="1420.2,640.8 1373.9,640.8 1417.0,683.9" fill="#2193cd" stroke="#2193cd" stroke-width="0.5"/><polygon points="1420.2,640.8 1431.4,640.8 1431.4,617.2" fill="#d69900" stroke="#d69900" stroke-width="0.5"/><polygon points="1373.9,640.8 1420.2,640.8 1431.4,617.2 1431.4,583.2" fill="#1c7fb0" stroke="#1c7fb0" stroke-width="0.5"/><polygon points="1373.9,640.8 1431.4,583.2 1373.9,583.2" fill="#1f88bc" stroke="#1f88bc" stroke-width="0.5"/><polygon points="1373.9,583.2 1431.4,583.2 1431.4,525.7" fill="#1a74a1" stroke="#1a74a1" stroke-width="0.5"/><polygon points="1373.9,583.2 1431.4,525.7 1373.9,525.7" fill="#1c7cad" stroke="#1c7cad" stroke-width="0.5"/><polygon points="1431.4,813.4 1459.4,813.4 1439.5,805.3" fill="#3e3e3e" stroke="#3e3e3e" stroke-width="0.5"/><polygon points="1459.4,813.4 1489.0,813.4 1489.0,758.5 1487.1,757.8 1439.5,805.3" fill="#6a4c00" stroke="#6a4c00" stroke-width="0.5"/><polygon points="1489.0,758.5 1489.0,755.9 1487.1,757.8" fill="#0e3f57" stroke="#0e3f57" stroke-width="0.5"/><polygon points="1431.4,813.4 1439.5,805.3 1431.4,800.5" fill="#414141" stroke="#414141" stroke-width="0.5"/><polygon points="1439.5,805.3 1487.1,757.8 1483.9,755.9 1431.4,755.9 1431.4,800.5" fill="#6e4f00" stroke="#6e4f00" stroke-width="0.5"/><polygon points="1487.1,757.8 1489.0,755.9 1483.9,755.9" fill="#0f415a" stroke="#0f415a" stroke-width="0.5"/><polygon points="1431.4,755.9 1483.9,755.9 1480.1,747.0 1431.4,698.3" fill="#9e7100" stroke="#9e7100" stroke-width="0.5"/><polygon points="1483.9,755.9 1489.0,755.9 1480.1,747.0" fill="#155e82" stroke="#155e82" stroke-width="0.5"/><polygon points="1489.0,746.3 1489.0,698.3 1431.4,698.3 1480.1,747.0" fill="#e6a500" stroke="#e6a500" stroke-width="0.5"/><polygon points="1489.0,755.9 1489.0,746.3 1480.1,747.0" fill="#1f88be" stroke="#1f88be" stroke-width="0.5"/><polygon points="1431.4,698.3 1489.0,698.3 1489.0,640.8" fill="#b48100" stroke="#b48100" stroke-width="0.5"/><polygon points="1431.4,698.3 1489.0,640.8 1431.4,640.8" fill="#b98500" stroke="#b98500" stroke-width="0.5"/><polygon points="1431.4,640.8 1489.0,640.8 1477.1,628.9 1431.4,617.2" fill="#946a00" stroke="#946a00" stroke-width="0.5"/><polygon points="1477.1,628.9 1431.4,583.2 1431.4,617.2" fill="#14587a" stroke="#14587a" stroke-width="0.5"/><polygon points="1489.0,640.8 1489.0,583.2 1463.7,583.2 1477.1,628.9" fill="#f1ad00" stroke="#f1ad00" stroke-width="0.5"/><polygon points="1463.7,583.2 1431.4,583.2 1477.1,628.9" fill="#208fc6" stroke="#208fc6" stroke-width="0.5"/><polygon points="1463.7,583.2 1489.0,583.2 1472.8,567.1" fill="#c58e00" stroke="#c58e00" stroke-width="0.5"/><polygon points="1431.4,583.2 1463.7,583.2 1472.8,567.1 1431.4,525.7" fill="#1a75a3" stroke="#1a75a3" stroke-width="0.5"/><polygon points="1489.0,583.2 1489.0,525.7 1477.1,525.7 1472.8,567.1" fill="#e6a500" stroke="#e6a500" stroke-width="0.5"/><polygon points="1477.1,525.7 1431.4,525.7 1472.8,567.1" fill="#1f88be" stroke="#1f88be" stroke-width="0.5"/><polygon points="1489.0,813.4 1546.5,813.4 1492.2,759.1 1489.0,758.5" fill="#705100" stroke="#705100" stroke-width="0.5"/><polygon points="1492.2,759.1 1489.0,755.9 1489.0,758.5" fill="#0f425c" stroke="#0f425c" stroke-width="0.5"/><polygon points="1546.5,813.4 1546.5,755.9 1501.1,755.9 1492.2,759.1" fill="#986d00" stroke="#986d00" stroke-width="0.5"/><polygon points="1501.1,755.9 1489.0,755.9 1492.2,759.1" fill="#145a7d" stroke="#145a7d" stroke-width="0.5"/><polygon points="1501.1,755.9 1546.5,755.9 1546.5,698.3 1501.8,743.1" fill="#d19600" stroke="#d19600" stroke-width="0.5"/><polygon points="1489.0,755.9 1501.1,755.9 1501.8,743.1" fill="#1c7bac" stroke="#1c7bac" stroke-width="0.5"/><polygon points="1501.8,743.1 1546.5,698.3 1489.0,698.3 1489.0,746.3" fill="#e4a400" stroke="#e4a400" stroke-width="0.5"/><polygon points="1489.0,755.9 1501.8,743.1 1489.0,746.3" fill="#1e87bc" stroke="#1e87bc" stroke-width="0.5"/><polygon points="1489.0,698.3 1546.5,698.3 1489.0,640.8" fill="#b17f00" stroke="#b17f00" stroke-width="0.5"/><polygon points="1546.5,698.3 1546.5,640.8 1489.0,640.8" fill="#c58e00" stroke="#c58e00" stroke-width="0.5"/><polygon points="1489.0,640.8 1546.5,640.8 1546.5,583.2" fill="#d59900" stroke="#d59900" stroke-width="0.5"/><polygon points="1489.0,640.8 1546.5,583.2 1489.0,583.2" fill="#d89b00" stroke="#d89b00" stroke-width="0.5"/><polygon points="1489.0,583.2 1546.5,583.2 1489.0,525.7" fill="#c08a00" stroke="#c08a00" stroke-width="0.5"/><polygon points="1546.5,583.2 1546.5,525.7 1489.0,525.7" fill="#edaa00" stroke="#edaa00" stroke-width="0.5"/><polygon points="1546.5,813.4 1604.1,813.4 1546.5,755.9" fill="#926900" stroke="#926900" stroke-width="0.5"/><polygon points="1604.1,813.4 1604.1,755.9 1546.5,755.9" fill="#926900" stroke="#926900" stroke-width="0.5"/><polygon points="1546.5,755.9 1604.1,755.9 1604.1,698.3" fill="#b28000" stroke="#b28000" stroke-width="0.5"/><polygon points="1546.5,755.9 1604.1,698.3 1546.5,698.3" fill="#c08a00" stroke="#c08a00" stroke-width="0.5"/><polygon points="1546.5,698.3 1604.1,698.3 1546.5,640.8" fill="#bd8800" stroke="#bd8800" stroke-width="0.5"/><polygon points="1604.1,698.3 1604.1,640.8 1546.5,640.8" fill="#edaa00" stroke="#edaa00" stroke-width="0.5"/><polygon points="1546.5,640.8 1604.1,640.8 1546.5,583.2" fill="#db9d00" stroke="#db9d00" stroke-width="0.5"/><polygon points="1604.1,640.8 1604.1,583.2 1546.5,583.2" fill="#ffee00" stroke="#ffee00" stroke-width="0.5"/><polygon points="1546.5,583.2 1604.1,583.2 1604.1,525.7" fill="#fdb600" stroke="#fdb600" stroke-width="0.5"/><polygon points="1546.5,583.2 1604.1,525.7 1546.5,525.7" fill="#feb600" stroke="#feb600" stroke-width="0.5"/></g><line x1="1317.95" y1="810.7" x2="1603.3" y2="525.5" stroke="#fa2a3a" stroke-width="5" stroke-dasharray="10 6"/><circle cx="1317.95" cy="810.7" r="10.8" fill="#ff2d3a" stroke="#4a4a4a" stroke-width="1.4"/><circle cx="1374.8" cy="753.9" r="10.8" fill="#ff5545" stroke="#4a4a4a" stroke-width="1.4"/><circle cx="1431.4" cy="696.7" r="10.8" fill="#ff7560" stroke="#4a4a4a" stroke-width="1.4"/><circle cx="1489.3" cy="639.1" r="10.8" fill="#ff9a80" stroke="#4a4a4a" stroke-width="1.4"/><circle cx="1546.1" cy="582.3" r="10.8" fill="#ffb0a0" stroke="#4a4a4a" stroke-width="1.4"/><circle cx="1603.3" cy="525.5" r="10.8" fill="#ffc8b8" stroke="#4a4a4a" stroke-width="1.4"/><text transform="translate(1604.15,498.20) scale(0.3250,0.3159) translate(-43.00,34.50)" font-size="100" font-family="Liberation Sans, Arial, sans-serif" fill="#fa2a3a" >VI</text><text transform="translate(1544.95,553.75) scale(0.3369,0.3435) translate(-33.50,34.50)" font-size="100" font-family="Liberation Sans, Arial, sans-serif" fill="#fa2a3a" >V</text><text transform="translate(1488.55,611.10) scale(0.3424,0.3159) translate(-51.50,34.50)" font-size="100" font-family="Liberation Sans, Arial, sans-serif" fill="#fa2a3a" >IV</text><text transform="translate(1432.15,667.55) scale(0.3923,0.3174) translate(-41.50,34.50)" font-size="100" font-family="Liberation Sans, Arial, sans-serif" fill="#fa2a3a" >III</text><text transform="translate(1374.95,724.00) scale(0.3919,0.3159) translate(-27.50,34.50)" font-size="100" font-family="Liberation Sans, Arial, sans-serif" fill="#fa2a3a" >II</text><text transform="translate(1317.95,780.95) scale(0.3700,0.3522) translate(-14.00,34.50)" font-size="100" font-family="Liberation Sans, Arial, sans-serif" fill="#fa2a3a" >I</text><rect x="16.1" y="953.9" width="265.5" height="265.5" fill="none" stroke="#ff2d3a" stroke-width="8.5"/><clipPath id="clipT0"><rect x="20.3" y="958.1" width="257.0" height="257.0"/></clipPath><g clip-path="url(#clipT0)"><rect x="20.3" y="958.1" width="257.0" height="257.0" fill="url(#pI)" filter="url(#blur1)"/><rect x="20.3" y="958.1" width="257.0" height="257.0" filter="url(#nI)" opacity="0.12"/><circle cx="187.3" cy="1130.1" r="7" fill="#ff6a10" opacity="0.85" filter="url(#blur15)"/></g><rect x="310.2" y="953.9" width="265.5" height="265.5" fill="none" stroke="#ff5545" stroke-width="8.5"/><clipPath id="clipT1"><rect x="314.5" y="958.1" width="257.0" height="257.0"/></clipPath><g clip-path="url(#clipT1)"><rect x="314.5" y="958.1" width="257.0" height="257.0" fill="url(#pII)" filter="url(#blur15)"/><rect x="314.5" y="958.1" width="257.0" height="257.0" filter="url(#nII)" opacity="0.45"/><rect x="314.5" y="958.1" width="257.0" height="257.0" filter="url(#sLow)" opacity="0.25"/></g><rect x="606.0" y="953.9" width="265.5" height="265.5" fill="none" stroke="#ff7560" stroke-width="8.5"/><clipPath id="clipT2"><rect x="610.3" y="958.1" width="257.0" height="257.0"/></clipPath><g clip-path="url(#clipT2)"><rect x="610.3" y="958.1" width="257.0" height="257.0" fill="url(#pIII)" filter="url(#blur1)"/><rect x="610.3" y="958.1" width="257.0" height="257.0" filter="url(#nIII)" opacity="0.5"/><rect x="610.3" y="958.1" width="257.0" height="257.0" filter="url(#sLow)" opacity="0.25"/></g><rect x="900.2" y="953.9" width="265.5" height="265.5" fill="none" stroke="#ff9a80" stroke-width="8.5"/><clipPath id="clipT3"><rect x="904.5" y="958.1" width="257.0" height="257.0"/></clipPath><g clip-path="url(#clipT3)"><rect x="904.5" y="958.1" width="257.0" height="257.0" filter="url(#nIV)"/><rect x="904.5" y="958.1" width="257.0" height="257.0" fill="url(#pIV)"/><rect x="904.5" y="958.1" width="257.0" height="257.0" filter="url(#sLow)" opacity="0.2"/></g><rect x="1195.8" y="953.9" width="265.5" height="265.5" fill="none" stroke="#ffb0a0" stroke-width="8.5"/><clipPath id="clipT4"><rect x="1200.1" y="958.1" width="257.0" height="257.0"/></clipPath><g clip-path="url(#clipT4)"><rect x="1200.1" y="958.1" width="257.0" height="257.0" filter="url(#nV)"/><rect x="1200.1" y="958.1" width="257.0" height="257.0" filter="url(#sStr)" opacity="0.15"/><rect x="1200.1" y="958.1" width="257.0" height="257.0" fill="url(#pV)"/></g><rect x="1491.0" y="953.9" width="265.5" height="265.5" fill="none" stroke="#ffc8b8" stroke-width="8.5"/><clipPath id="clipT5"><rect x="1495.3" y="958.1" width="257.0" height="257.0"/></clipPath><g clip-path="url(#clipT5)"><rect x="1495.3" y="958.1" width="257.0" height="257.0" filter="url(#nVI)"/><rect x="1495.3" y="958.1" width="257.0" height="257.0" filter="url(#sStr)" opacity="0.2"/><rect x="1495.3" y="958.1" width="257.0" height="257.0" fill="url(#pV)"/></g><rect x="218.1" y="965.5" width="50.8" height="49.7" fill="#fff"/><rect x="512.3" y="965.5" width="50.8" height="49.7" fill="#fff"/><rect x="808.1" y="965.5" width="50.8" height="49.7" fill="#fff"/><rect x="1102.3" y="965.5" width="50.8" height="49.7" fill="#fff"/><rect x="1397.9" y="965.5" width="50.8" height="49.7" fill="#fff"/><rect x="1693.1" y="965.5" width="50.8" height="49.7" fill="#fff"/><text transform="translate(242.65,990.40) scale(0.5100,0.4261) translate(-14.00,34.50)" font-size="100" font-family="Liberation Sans, Arial, sans-serif" fill="#fa2a3a" >I</text><text transform="translate(538.10,989.20) scale(0.3838,0.3913) translate(-27.50,34.50)" font-size="100" font-family="Liberation Sans, Arial, sans-serif" fill="#fa2a3a" >II</text><text transform="translate(833.45,990.00) scale(0.3646,0.3681) translate(-41.50,34.50)" font-size="100" font-family="Liberation Sans, Arial, sans-serif" fill="#fa2a3a" >III</text><text transform="translate(1127.70,990.00) scale(0.3176,0.3681) translate(-51.50,34.50)" font-size="100" font-family="Liberation Sans, Arial, sans-serif" fill="#fa2a3a" >IV</text><text transform="translate(1424.25,990.00) scale(0.3123,0.3681) translate(-33.50,34.50)" font-size="100" font-family="Liberation Sans, Arial, sans-serif" fill="#fa2a3a" >V</text><text transform="translate(1719.65,990.00) scale(0.3345,0.3681) translate(-43.00,34.50)" font-size="100" font-family="Liberation Sans, Arial, sans-serif" fill="#fa2a3a" >VI</text><rect x="27" y="965.5" width="130.3" height="64.9" fill="#fff"/><g stroke="#444" stroke-width="3"><line x1="38.9" y1="1009.5" x2="145.4" y2="1009.5"/><line x1="38.9" y1="997.6" x2="38.9" y2="1020.6"/><line x1="145.4" y1="997.6" x2="145.4" y2="1020.6"/></g><text transform="translate(92.15,988.30) scale(0.3094,0.3188) translate(-125.50,34.50)" font-size="100" font-family="Liberation Sans, Arial, sans-serif" fill="#333" >1 mm</text><rect x="10.1" y="1160" width="64.3" height="63.5" fill="#fff"/><text transform="translate(38.05,1195.45) scale(0.4464,0.5032) translate(-61.00,26.00)" font-size="100" font-family="Liberation Sans, Arial, sans-serif" fill="#3a3a3a" >(d)</text><text transform="translate(92.95,200.80) scale(0.3457,0.3521) translate(-28.00,34.50)" font-size="100" font-family="Liberation Sans, Arial, sans-serif" fill="#3a3a3a" >6</text><text transform="translate(95.95,366.40) scale(0.3510,0.3486) translate(-27.50,35.00)" font-size="100" font-family="Liberation Sans, Arial, sans-serif" fill="#3a3a3a" >4</text><text transform="translate(98.85,530.15) scale(0.3500,0.3529) translate(-28.00,35.00)" font-size="100" font-family="Liberation Sans, Arial, sans-serif" fill="#3a3a3a" >2</text><text transform="translate(101.35,692.45) scale(0.3563,0.3338) translate(-28.00,34.50)" font-size="100" font-family="Liberation Sans, Arial, sans-serif" fill="#3a3a3a" >0</text><text transform="translate(107.20,740.65) scale(0.3708,0.3479) translate(-28.00,34.50)" font-size="100" font-family="Liberation Sans, Arial, sans-serif" fill="#3a3a3a" >0</text><text transform="translate(212.50,763.40) scale(0.3495,0.3521) translate(-99.00,34.50)" font-size="100" font-family="Liberation Sans, Arial, sans-serif" fill="#3a3a3a" >12.5</text><text transform="translate(336.60,791.95) scale(0.3373,0.3535) translate(-56.00,34.50)" font-size="100" font-family="Liberation Sans, Arial, sans-serif" fill="#3a3a3a" >25</text><text transform="translate(449.80,814.05) scale(0.3398,0.3563) translate(-97.00,34.50)" font-size="100" font-family="Liberation Sans, Arial, sans-serif" fill="#3a3a3a" >37.5</text><text transform="translate(575.15,843.75) scale(0.3427,0.3479) translate(-55.50,34.50)" font-size="100" font-family="Liberation Sans, Arial, sans-serif" fill="#3a3a3a" >50</text><text transform="translate(690.25,867.50) scale(0.3476,0.3521) translate(-97.50,34.50)" font-size="100" font-family="Liberation Sans, Arial, sans-serif" fill="#3a3a3a" >62.5</text><text transform="translate(807.15,846.85) scale(0.3771,0.3507) translate(-28.00,34.50)" font-size="100" font-family="Liberation Sans, Arial, sans-serif" fill="#3a3a3a" >0</text><text transform="translate(864.90,798.15) scale(0.3484,0.3507) translate(-99.00,34.50)" font-size="100" font-family="Liberation Sans, Arial, sans-serif" fill="#3a3a3a" >12.5</text><text transform="translate(937.95,756.85) scale(0.3441,0.3338) translate(-56.00,34.50)" font-size="100" font-family="Liberation Sans, Arial, sans-serif" fill="#3a3a3a" >25</text><text transform="translate(996.30,710.95) scale(0.3409,0.3507) translate(-97.00,34.50)" font-size="100" font-family="Liberation Sans, Arial, sans-serif" fill="#3a3a3a" >37.5</text><text transform="translate(1066.50,670.25) scale(0.3515,0.3507) translate(-55.50,34.50)" font-size="100" font-family="Liberation Sans, Arial, sans-serif" fill="#3a3a3a" >50</text><text transform="translate(1122.60,624.95) scale(0.3492,0.3507) translate(-97.50,34.50)" font-size="100" font-family="Liberation Sans, Arial, sans-serif" fill="#3a3a3a" >62.5</text><text transform="translate(32.40,448.90) rotate(-90) scale(0.4338,0.4404) translate(-351.00,26.00)" font-size="100" font-family="Liberation Sans, Arial, sans-serif" fill="#3a3a3a" >MRR [mm<tspan font-size="62" dy="-30">3</tspan><tspan dy="30">/min]</tspan></text><text transform="translate(33.05,888.60) scale(0.4355,0.4553) translate(-61.00,26.00)" font-size="100" font-family="Liberation Sans, Arial, sans-serif" fill="#3a3a3a" >(a)</text><text transform="translate(309.40,883.30) rotate(11.5) scale(0.4165)" font-size="100" font-family="Liberation Sans, Arial, sans-serif" fill="#3a3a3a" ><tspan font-style="italic">η</tspan><tspan font-size="54" dy="22" font-style="italic">p-p</tspan><tspan dy="-22"> [%]</tspan></text><text transform="translate(970.61,856.49) rotate(-34.5) scale(0.4262)" font-size="100" font-family="Liberation Sans, Arial, sans-serif" fill="#3a3a3a" ><tspan>η</tspan><tspan font-size="56" dy="20"> |-|</tspan><tspan dy="-20"> [%]</tspan></text><text transform="translate(1290.25,135.00) scale(0.3272,0.3211) translate(-84.00,34.50)" font-size="100" font-family="Liberation Sans, Arial, sans-serif" fill="#3a3a3a" >200</text><text transform="translate(1291.25,227.25) scale(0.3310,0.3479) translate(-85.50,34.50)" font-size="100" font-family="Liberation Sans, Arial, sans-serif" fill="#3a3a3a" >100</text><text transform="translate(1295.05,318.45) scale(0.3562,0.3479) translate(-28.00,34.50)" font-size="100" font-family="Liberation Sans, Arial, sans-serif" fill="#3a3a3a" >0</text><text transform="translate(1310.65,349.50) scale(0.3396,0.3324) translate(-28.00,34.50)" font-size="100" font-family="Liberation Sans, Arial, sans-serif" fill="#3a3a3a" >0</text><text transform="translate(1402.50,370.80) scale(0.3353,0.3211) translate(-56.00,34.50)" font-size="100" font-family="Liberation Sans, Arial, sans-serif" fill="#3a3a3a" >25</text><text transform="translate(1495.65,389.80) scale(0.3330,0.3211) translate(-55.50,34.50)" font-size="100" font-family="Liberation Sans, Arial, sans-serif" fill="#3a3a3a" >50</text><text transform="translate(1615.40,386.00) scale(0.3167,0.3211) translate(-28.00,34.50)" font-size="100" font-family="Liberation Sans, Arial, sans-serif" fill="#3a3a3a" >0</text><text transform="translate(1668.30,350.85) scale(0.3431,0.2944) translate(-56.00,34.50)" font-size="100" font-family="Liberation Sans, Arial, sans-serif" fill="#3a3a3a" >25</text><text transform="translate(1717.70,315.60) scale(0.3398,0.3211) translate(-55.50,34.50)" font-size="100" font-family="Liberation Sans, Arial, sans-serif" fill="#3a3a3a" >50</text><text transform="translate(1231.35,226.25) rotate(-90) scale(0.4144,0.3649) translate(-159.00,26.00)" font-size="100" font-family="Liberation Sans, Arial, sans-serif" fill="#3a3a3a" ><tspan font-style="italic">S</tspan><tspan font-size="62" dy="16">z</tspan><tspan dy="-16"> [µm]</tspan></text><text transform="translate(1325.75,427.34) rotate(11.5) scale(0.4104)" font-size="100" font-family="Liberation Sans, Arial, sans-serif" fill="#3a3a3a" ><tspan font-style="italic">η</tspan><tspan font-size="54" dy="22" font-style="italic">p-p</tspan><tspan dy="-22"> [%]</tspan></text><text transform="translate(1660.83,447.41) rotate(-34.5) scale(0.4216)" font-size="100" font-family="Liberation Sans, Arial, sans-serif" fill="#3a3a3a" ><tspan>η</tspan><tspan font-size="56" dy="20"> |-|</tspan><tspan dy="-20"> [%]</tspan></text><text transform="translate(1225.65,433.50) scale(0.4500,0.4851) translate(-61.00,26.00)" font-size="100" font-family="Liberation Sans, Arial, sans-serif" fill="#3a3a3a" >(b)</text><text transform="translate(1269.15,670.30) rotate(-90) scale(0.4327,0.4074) translate(-351.00,26.00)" font-size="100" font-family="Liberation Sans, Arial, sans-serif" fill="#3a3a3a" >MRR [mm<tspan font-size="62" dy="-30">3</tspan><tspan dy="30">/min]</tspan></text><text transform="translate(1640.60,815.05) scale(0.3417,0.3085) translate(-28.00,34.50)" font-size="100" font-family="Liberation Sans, Arial, sans-serif" fill="#3a3a3a" >0</text><text transform="translate(1640.60,701.25) scale(0.3392,0.3338) translate(-56.00,34.50)" font-size="100" font-family="Liberation Sans, Arial, sans-serif" fill="#3a3a3a" >25</text><text transform="translate(1640.60,584.70) scale(0.3359,0.3324) translate(-55.50,34.50)" font-size="100" font-family="Liberation Sans, Arial, sans-serif" fill="#3a3a3a" >50</text><text transform="translate(1701.60,672.10) rotate(-90) scale(0.4635,0.3569) translate(-137.50,22.00)" font-size="100" font-family="Liberation Sans, Arial, sans-serif" fill="#3a3a3a" ><tspan font-style="italic">η</tspan><tspan font-size="62" dy="16">|-|</tspan><tspan dy="-16"> [%]</tspan></text><text transform="translate(1317.95,846.85) scale(0.3562,0.3338) translate(-28.00,34.50)" font-size="100" font-family="Liberation Sans, Arial, sans-serif" fill="#3a3a3a" >0</text><text transform="translate(1434.80,846.85) scale(0.3392,0.3338) translate(-56.00,34.50)" font-size="100" font-family="Liberation Sans, Arial, sans-serif" fill="#3a3a3a" >25</text><text transform="translate(1550.50,846.85) scale(0.3534,0.3338) translate(-55.50,34.50)" font-size="100" font-family="Liberation Sans, Arial, sans-serif" fill="#3a3a3a" >50</text><text transform="translate(1459.40,900.60) scale(0.4019,0.3922) translate(-156.00,22.00)" font-size="100" font-family="Liberation Sans, Arial, sans-serif" fill="#3a3a3a" ><tspan font-style="italic">η</tspan><tspan font-size="62" dy="16">p-p</tspan><tspan dy="-16"> [%]</tspan></text><text transform="translate(1265.50,898.80) scale(0.4385,0.4638) translate(-58.00,26.00)" font-size="100" font-family="Liberation Sans, Arial, sans-serif" fill="#3a3a3a" >(c)</text></svg></body></html>
